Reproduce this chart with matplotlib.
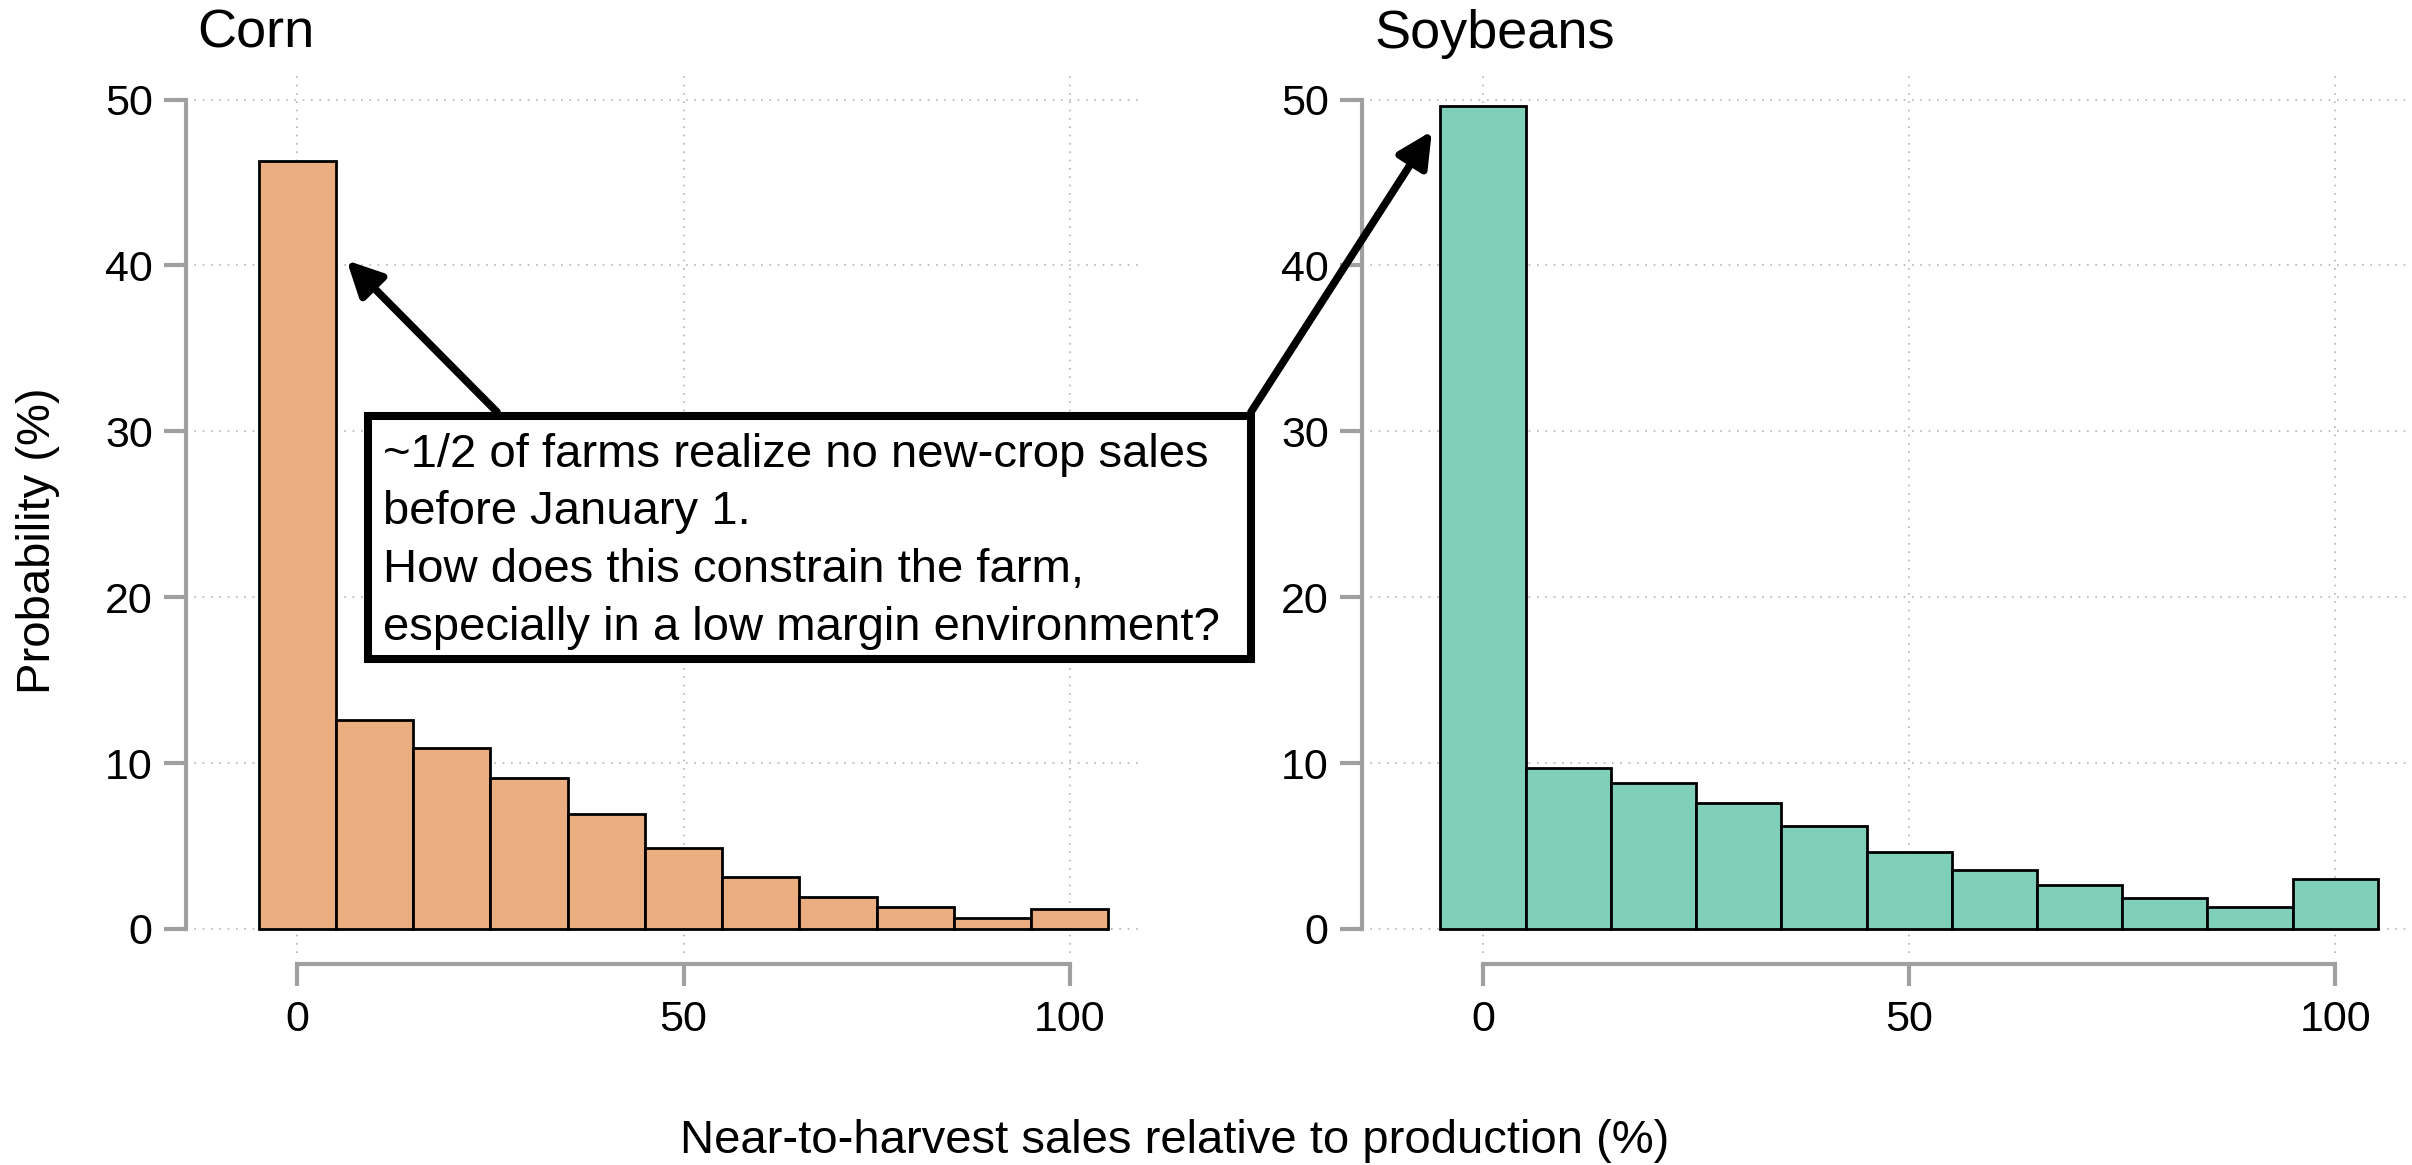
import numpy as np
import matplotlib.pyplot as plt
from matplotlib.patches import Rectangle

plt.rcParams['font.family'] = ['Liberation Sans', 'DejaVu Sans']

# histogram bins (share of production sold near harvest), bin width 10
bins = [0, 10, 20, 30, 40, 50, 60, 70, 80, 90, 100]
corn = [46.3, 12.6, 10.9, 9.1, 6.9, 4.85, 3.15, 1.95, 1.35, 0.65, 1.2]
soy = [49.6, 9.7, 8.8, 7.6, 6.2, 4.65, 3.55, 2.65, 1.85, 1.3, 3.0]
yticks = [0, 10, 20, 30, 40, 50]
xticks = [0, 50, 100]

note = ["~1/2 of farms realize no new-crop sales",
        "before January 1.",
        "How does this constrain the farm,",
        "especially in a low margin environment?"]

W, H = 2412, 1165
fig = plt.figure(figsize=(W / 100, H / 100), dpi=100)


def px(x, y):
    # pixel position -> figure fraction
    return x / W, 1 - y / H


ax1 = fig.add_axes([186 / W, 1 - 953 / H, 958 / W, 880 / H])
ax2 = fig.add_axes([1362 / W, 1 - 953 / H, 1050 / W, 880 / H])

gray = '#a0a0a0'
panels = [(ax1, corn, '#eaae80', 'Corn', (-14.4, 109.6)),
          (ax2, soy, '#80cfb8', 'Soybeans', (-14.2, 109.0))]
for ax, vals, col, name, xl in panels:
    ax.bar(bins, vals, width=10, color=col, edgecolor='black', linewidth=2, zorder=2)
    ax.set_xlim(*xl)
    ax.set_ylim(-1.45, 51.6)
    ax.set_xticks(xticks)
    ax.set_yticks(yticks)
    ax.grid(True, color='#b4b4b4', linestyle=(0, (1, 4)), linewidth=1.2)
    ax.set_axisbelow(True)
    for s in ['top', 'right']:
        ax.spines[s].set_visible(False)
    ax.spines['left'].set_color(gray)
    ax.spines['left'].set_linewidth(3)
    ax.spines['left'].set_bounds(0, 50)
    ax.spines['bottom'].set_color(gray)
    ax.spines['bottom'].set_linewidth(3)
    ax.spines['bottom'].set_bounds(0, 100)
    ax.spines['bottom'].set_position(('outward', 8))
    ax.tick_params(axis='both', length=16, width=3, color=gray, labelsize=31)
    ax.tick_params(axis='y', pad=8)
    ax.tick_params(axis='x', pad=10)
    ax.set_title(name, loc='left', fontsize=39, pad=18, x=0.012)

fig.text(38 / W, 1 - 541 / H, 'Probability (%)', rotation=90,
         ha='center', va='center', fontsize=34)

arrow = dict(arrowstyle='-|>,head_length=0.6,head_width=0.3', lw=5.5, color='black',
             mutation_scale=35, shrinkA=0, shrinkB=0)
ax1.annotate('', xy=(6.4, 40.3), xycoords='data', xytext=px(497, 412),
             textcoords='figure fraction', arrowprops=arrow, annotation_clip=False)
ax2.annotate('', xy=(-6.0, 48.1), xycoords='data', xytext=px(1251, 412),
             textcoords='figure fraction', arrowprops=arrow, annotation_clip=False)

box = Rectangle(px(368, 659), 883 / W, 243 / H, transform=fig.transFigure,
                facecolor='white', edgecolor='black', linewidth=5.8, zorder=5)
fig.add_artist(box)
for i, line in enumerate(note):
    fig.text(383 / W, 1 - (467 + 57.5 * i) / H, line, fontsize=34, va='baseline', zorder=6)

fig.text(1175 / W, 1 - 1153 / H, 'Near-to-harvest sales relative to production (%)',
         ha='center', va='baseline', fontsize=34)

fig.savefig('out.png', dpi=100)
